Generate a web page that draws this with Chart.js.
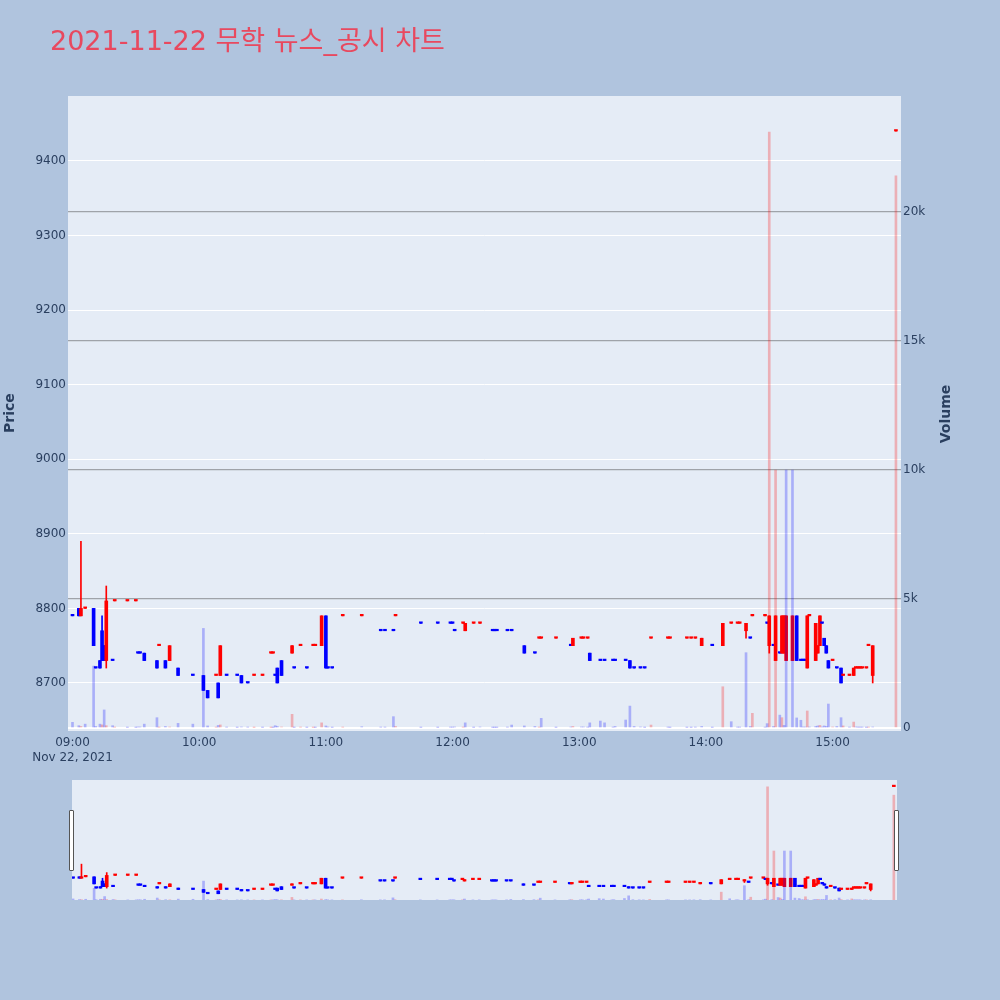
<!DOCTYPE html>
<html>
<head>
<meta charset="utf-8">
<script src="https://cdn.jsdelivr.net/npm/chart.js@4.4.1/dist/chart.umd.min.js"></script>
<style>
html,body{margin:0;padding:0;background:#b0c4de;width:1000px;height:1000px;overflow:hidden;font-family:"DejaVu Sans","Noto Sans CJK KR",sans-serif}
#main{position:absolute;left:0;top:0}
#slider{position:absolute;left:72px;top:780px}
.title{position:absolute;left:50px;top:25px;font-size:27px;line-height:32px;color:#e8495f;white-space:nowrap}
.axt{position:absolute;width:120px;height:20px;line-height:20px;text-align:center;font-size:14px;font-weight:bold;color:#2a3f5f;transform:rotate(-90deg);white-space:nowrap}
.handle{position:absolute;width:3px;height:59px;background:#fff;border:1px solid #555;border-radius:1px}
</style>
</head>
<body>
<canvas id="main" width="1000" height="1000"></canvas>
<canvas id="slider" width="825" height="120"></canvas>
<div class="title">2021-11-22 무학 뉴스_공시 차트</div>
<div class="axt" style="left:-51px;top:403px">Price</div>
<div class="axt" style="left:885px;top:404px">Volume</div>
<div class="handle" style="left:69px;top:810px"></div>
<div class="handle" style="left:894px;top:810px"></div>
<script>
const times = [
'09:00','09:03','09:04','09:06','09:10','09:11','09:13','09:14','09:15','09:16',
'09:19','09:20','09:26','09:30','09:31','09:32','09:34','09:40','09:41','09:44',
'09:46','09:50','09:57','10:02','10:04','10:08','10:09','10:10','10:13','10:18',
'10:20','10:23','10:26','10:30','10:34','10:35','10:36','10:37','10:39','10:44',
'10:45','10:48','10:51','10:54','10:55','10:58','11:00','11:01','11:03','11:08',
'11:17','11:26','11:28','11:32','11:33','11:45','11:53','11:59','12:00','12:01',
'12:05','12:06','12:10','12:13','12:19','12:20','12:21','12:26','12:28','12:34',
'12:39','12:41','12:42','12:49','12:56','12:57','13:01','13:02','13:04','13:05',
'13:10','13:12','13:16','13:17','13:22','13:24','13:26','13:29','13:31','13:34',
'13:42','13:43','13:51','13:53','13:55','13:58','14:03','14:08','14:12','14:15',
'14:16','14:19','14:21','14:22','14:28','14:29','14:30','14:32','14:33','14:35',
'14:36','14:37','14:38','14:41','14:43','14:45','14:46','14:47','14:48','14:49',
'14:52','14:53','14:54','14:55','14:56','14:57','14:58','15:00','15:02','15:04',
'15:05','15:08','15:10','15:11','15:12','15:13','15:14','15:16','15:17','15:19',
'15:30'];
const opens = [
8790,8800,8790,8800,8800,8720,8730,8770,8750,8730,
8730,8810,8810,8810,8740,8740,8740,8730,8750,8730,
8730,8720,8710,8710,8690,8710,8700,8710,8710,8710,
8710,8700,8710,8710,8740,8740,8710,8720,8730,8740,
8720,8750,8720,8750,8750,8750,8790,8720,8720,8790,
8790,8770,8770,8770,8790,8780,8780,8780,8780,8770,
8780,8770,8780,8780,8770,8770,8770,8770,8770,8750,
8740,8760,8760,8760,8750,8750,8760,8760,8760,8740,
8730,8730,8730,8730,8730,8730,8720,8720,8720,8760,
8760,8760,8760,8760,8760,8750,8750,8750,8780,8780,
8780,8770,8760,8790,8790,8780,8750,8750,8730,8740,
8740,8740,8730,8730,8790,8730,8730,8730,8720,8790,
8730,8740,8750,8780,8760,8750,8730,8730,8720,8720,
8710,8710,8710,8720,8720,8720,8720,8720,8750,8710,
9440];
const highs = [
8790,8800,8890,8800,8800,8720,8730,8790,8750,8830,
8730,8810,8810,8810,8740,8740,8740,8730,8750,8730,
8750,8720,8710,8710,8690,8710,8700,8750,8710,8710,
8710,8700,8710,8710,8740,8740,8710,8720,8730,8750,
8720,8750,8720,8750,8750,8790,8790,8720,8720,8790,
8790,8770,8770,8770,8790,8780,8780,8780,8780,8770,
8780,8780,8780,8780,8770,8770,8770,8770,8770,8750,
8740,8760,8760,8760,8750,8760,8760,8760,8760,8740,
8730,8730,8730,8730,8730,8730,8720,8720,8720,8760,
8760,8760,8760,8760,8760,8760,8750,8780,8780,8780,
8780,8780,8760,8790,8790,8780,8790,8750,8790,8740,
8790,8790,8790,8790,8790,8730,8730,8730,8790,8790,
8780,8750,8790,8780,8760,8750,8730,8730,8720,8720,
8710,8710,8720,8720,8720,8720,8720,8720,8750,8750,
9440];
const lows = [
8790,8790,8790,8800,8750,8720,8720,8730,8730,8720,
8730,8810,8810,8810,8740,8740,8730,8720,8750,8720,
8730,8710,8710,8690,8680,8710,8680,8710,8710,8710,
8700,8700,8710,8710,8740,8740,8710,8700,8710,8740,
8720,8750,8720,8750,8750,8750,8720,8720,8720,8790,
8790,8770,8770,8770,8790,8780,8780,8780,8780,8770,
8780,8770,8780,8780,8770,8770,8770,8770,8770,8740,
8740,8760,8760,8760,8750,8750,8760,8760,8760,8730,
8730,8730,8730,8730,8730,8720,8720,8720,8720,8760,
8760,8760,8760,8760,8760,8750,8750,8750,8780,8780,
8780,8760,8760,8790,8790,8780,8740,8750,8730,8740,
8740,8740,8730,8730,8730,8730,8730,8730,8720,8790,
8730,8740,8750,8780,8750,8740,8720,8730,8720,8700,
8710,8710,8710,8720,8720,8720,8720,8720,8750,8700,
9440];
const closes = [
8790,8790,8800,8800,8750,8720,8720,8730,8730,8810,
8730,8810,8810,8810,8740,8740,8730,8720,8750,8720,
8750,8710,8710,8690,8680,8710,8680,8750,8710,8710,
8700,8700,8710,8710,8740,8740,8710,8700,8710,8750,
8720,8750,8720,8750,8750,8790,8720,8720,8720,8790,
8790,8770,8770,8770,8790,8780,8780,8780,8780,8770,
8780,8780,8780,8780,8770,8770,8770,8770,8770,8740,
8740,8760,8760,8760,8750,8760,8760,8760,8760,8730,
8730,8730,8730,8730,8730,8720,8720,8720,8720,8760,
8760,8760,8760,8760,8760,8760,8750,8780,8780,8780,
8780,8780,8760,8790,8790,8780,8790,8750,8790,8740,
8790,8790,8790,8790,8730,8730,8730,8730,8790,8790,
8780,8750,8790,8780,8750,8740,8720,8730,8720,8700,
8710,8710,8720,8720,8720,8720,8720,8720,8750,8750,
9440];
const volumes = [
220,90,60,150,2400,60,150,120,700,90,
90,30,20,20,40,40,150,400,30,60,
40,180,150,3860,80,30,100,120,30,20,
40,30,20,20,20,20,90,60,40,530,
20,30,20,20,20,200,80,40,20,30,
50,30,30,440,60,20,20,30,30,40,
30,200,20,40,20,20,20,30,115,80,
60,30,375,20,40,60,40,40,30,200,
270,200,30,60,310,850,60,40,20,115,
30,20,20,20,30,60,20,1600,245,30,
30,2920,60,570,30,170,23100,60,10000,500,
400,100,10000,10000,390,300,40,40,660,40,
60,80,100,40,80,60,930,40,60,400,
80,30,230,40,30,30,30,20,30,40,
21400];
const xTickLabels = ['09:00','10:00','11:00','12:00','13:00','14:00','15:00'];
const dateLabel = 'Nov 22, 2021';
const priceTicks = [8700,8800,8900,9000,9100,9200,9300,9400];
const volumeTicks = [0,5000,10000,15000,20000];
const volumeTickLabels = ['0','5k','10k','15k','20k'];

function toMin(t){const p=t.split(':').map(Number);return (p[0]-9)*60+p[1];}
const xs = times.map(toMin);
const xTickMinutes = xTickLabels.map(toMin);

const candleUp = [];
closes.forEach((c,i)=>{
  const o = opens[i]; let u;
  if (c !== o) u = c > o;
  else if (i > 0 && c !== closes[i-1]) u = c > closes[i-1];
  else u = i > 0 ? candleUp[i-1] : false;
  candleUp.push(u);
});
const volUp = closes.map((c,i)=> i > 0 && c > closes[i-1]);

const RED='#ff0000', BLUE='#0000ff';
const candleColors = candleUp.map(u=>u?RED:BLUE);
const volColors = volUp.map(u=>u?'rgba(255,0,0,0.26)':'rgba(0,0,255,0.26)');

function makeDatasets(bodyW, wickW, volW, minLen){
  return [
    {label:'Volume', yAxisID:'y2', order:0, grouped:false, barThickness:volW,
     data: xs.map((x,i)=>({x:x, y:volumes[i]})), backgroundColor: volColors, borderWidth:0},
    {label:'Body', yAxisID:'y', order:1, grouped:false, barThickness:bodyW, minBarLength:minLen,
     data: xs.map((x,i)=>({x:x, y:[Math.min(opens[i],closes[i]), Math.max(opens[i],closes[i])]})),
     backgroundColor: candleColors, borderWidth:0},
    {label:'Wick', yAxisID:'y', order:2, grouped:false, barThickness:wickW,
     data: xs.map((x,i)=>({x:x, y:[lows[i], highs[i]]})),
     backgroundColor: candleColors, borderWidth:0}
  ];
}

const bgPlugin = {id:'plotbg', beforeDraw(chart){
  const a = chart.chartArea, ctx = chart.ctx;
  ctx.save(); ctx.fillStyle = '#e5ecf6';
  ctx.fillRect(a.left, a.top, a.right-a.left, a.bottom-a.top); ctx.restore();
}};

const TICK = '#2a3f5f';
const FONT = {family:'"DejaVu Sans", sans-serif', size:12};
const PRICE_MIN = 8635.6, PRICE_MAX = 9487, VOL_MIN = -116, VOL_MAX = 24496;

new Chart(document.getElementById('main'), {
  type:'bar',
  data:{datasets: makeDatasets(3, 1, 2, 1.5)},
  plugins:[bgPlugin],
  options:{
    responsive:false, animation:false, devicePixelRatio:1,
    layout:{padding:{top:96, bottom:229, left:0, right:0}},
    plugins:{legend:{display:false}, tooltip:{enabled:false}},
    scales:{
      x:{type:'linear', min:-2.13, max:392.4, offset:false,
         grid:{display:false}, border:{display:false},
         afterBuildTicks:s=>{s.ticks = xTickMinutes.map(v=>({value:v}));},
         afterFit:s=>{s.height = 40;},
         ticks:{color:TICK, font:FONT, padding:-3, maxRotation:0, autoSkip:false,
           callback:(v,i)=> i===0 ? [xTickLabels[0], dateLabel] : xTickLabels[i]}},
      y:{position:'left', min:PRICE_MIN, max:PRICE_MAX,
         afterBuildTicks:s=>{s.ticks = priceTicks.map(v=>({value:v}));},
         afterFit:s=>{s.width = 68;},
         grid:{color:'#ffffff', lineWidth:1, drawTicks:false}, border:{display:false},
         ticks:{color:TICK, font:FONT, padding:2, callback:v=>String(v)}},
      y2:{position:'right', min:VOL_MIN, max:VOL_MAX,
         afterBuildTicks:s=>{s.ticks = volumeTicks.map(v=>({value:v}));},
         afterFit:s=>{s.width = 99;},
         grid:{color:c=> c.tick && c.tick.value===0 ? '#ffffff' : '#9fa3a9',
               lineWidth:c=> c.tick && c.tick.value===0 ? 2 : 1.2, drawTicks:false},
         border:{display:false},
         ticks:{color:TICK, font:FONT, padding:2,
           callback:v=>{const k=volumeTicks.indexOf(v); return k>=0?volumeTickLabels[k]:'';}}}
    }
  }
});

new Chart(document.getElementById('slider'), {
  type:'bar',
  data:{datasets: makeDatasets(3, 1, 2, 1.5)},
  plugins:[bgPlugin],
  options:{
    responsive:false, animation:false, devicePixelRatio:1,
    layout:{padding:0},
    plugins:{legend:{display:false}, tooltip:{enabled:false}},
    scales:{
      x:{type:'linear', min:-0.5, max:391.5, offset:false, display:false},
      y:{min:PRICE_MIN, max:PRICE_MAX, display:false},
      y2:{position:'right', min:0, max:VOL_MAX, display:false}
    }
  }
});
</script>
</body>
</html>
